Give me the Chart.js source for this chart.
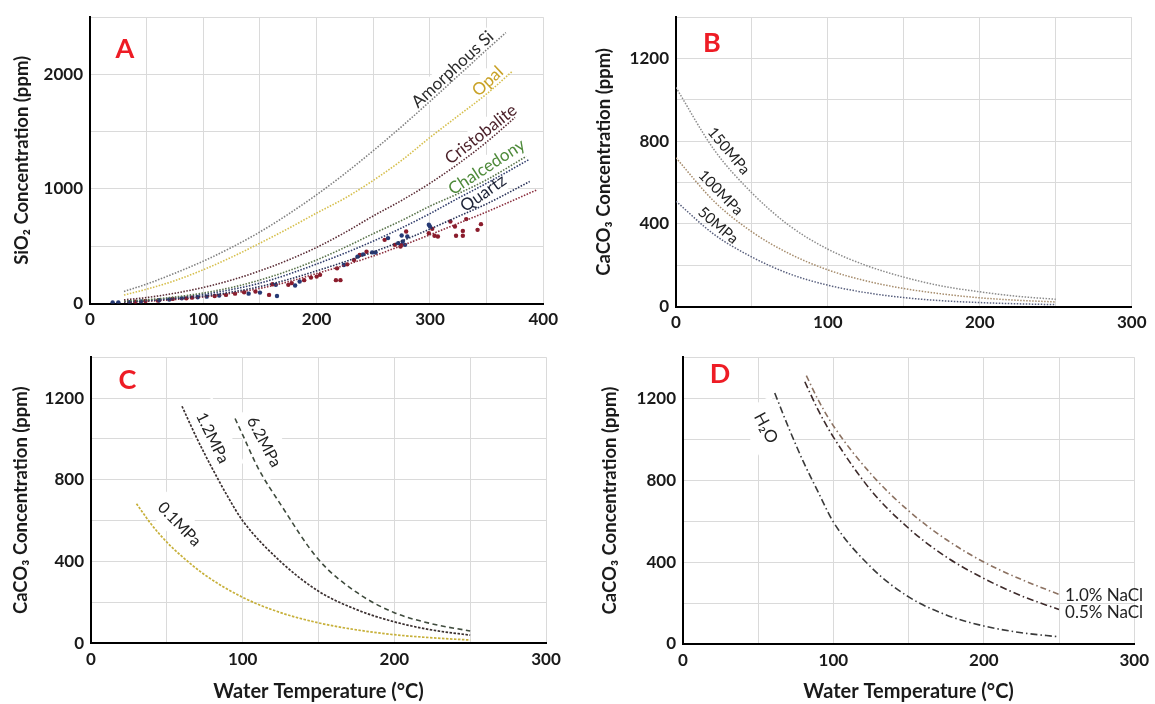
<!DOCTYPE html>
<html>
<head>
<meta charset="utf-8">
<script src="https://cdn.jsdelivr.net/npm/chart.js@4.4.0/dist/chart.umd.min.js"></script>
<style>
  html, body { margin: 0; padding: 0; background: #fff; }
  #wrap { position: relative; width: 1155px; height: 704px; overflow: hidden; background: #fff; }
  canvas { position: absolute; }
</style>
</head>
<body>
<div id="wrap">
  <canvas id="chartA" width="586" height="340" style="left:0px;top:0px"></canvas>
  <canvas id="chartB" width="569" height="340" style="left:586px;top:0px"></canvas>
  <canvas id="chartC" width="591" height="364" style="left:1px;top:340px"></canvas>
  <canvas id="chartD" width="562" height="364" style="left:593px;top:340px"></canvas>
</div>
<script>
// ---- Panel A: SiO2 solubility vs temperature ----
const tAmorphous = [30, 50, 75, 100, 125, 150, 175, 200, 225, 250, 275, 300, 325, 350, 367];
const ppmAmorphous = [105, 170, 265, 370, 490, 625, 780, 950, 1135, 1335, 1545, 1765, 1990, 2215, 2365];
const tOpal = [30, 50, 75, 100, 125, 150, 175, 200, 225, 250, 275, 300, 325, 350, 373];
const ppmOpal = [74, 125, 200, 295, 405, 527, 655, 790, 920, 1075, 1250, 1450, 1640, 1830, 2030];
const tCristobalite = [30, 50, 75, 100, 125, 150, 175, 200, 225, 250, 275, 300, 325, 350, 375];
const ppmCristobalite = [32, 52, 90, 140, 205, 285, 380, 490, 620, 765, 900, 1050, 1220, 1410, 1625];
const tChalcedony = [30, 50, 75, 100, 125, 150, 175, 200, 225, 250, 275, 300, 325, 350, 385];
const ppmChalcedony = [20, 33, 57, 92, 140, 205, 285, 380, 490, 610, 725, 850, 960, 1080, 1285];
const tNavyLine = [30, 50, 75, 100, 125, 150, 175, 200, 225, 250, 275, 300, 325, 350, 387];
const ppmNavyLine = [18, 28, 50, 80, 122, 178, 255, 345, 440, 545, 660, 785, 920, 1050, 1255];
const tQuartz = [30, 50, 75, 100, 125, 150, 175, 200, 225, 250, 275, 300, 325, 350, 388];
const ppmQuartz = [15, 24, 42, 66, 100, 148, 210, 285, 365, 450, 545, 650, 760, 870, 1065];
const tRedLine = [30, 50, 75, 100, 125, 150, 175, 200, 225, 250, 275, 300, 325, 350, 395];
const ppmRedLine = [12, 20, 35, 57, 90, 132, 190, 262, 335, 415, 505, 600, 700, 800, 995];

// measured samples
const tNavyDots = [20, 25, 35, 45, 61, 70, 81, 95, 103, 114, 140, 150, 164, 165, 181, 185, 224, 236, 241, 249, 252, 263, 272, 276, 278, 275, 280, 300, 299];
const ppmNavyDots = [10, 10, 12, 18, 28, 35, 45, 55, 60, 69, 86, 95, 163, 66, 157, 192, 336, 409, 429, 446, 445, 571, 527, 541, 512, 594, 585, 672, 687];
const tRedDots = [40, 49, 60, 73, 85, 90, 110, 120, 128, 136, 146, 158, 161, 175, 178, 189, 195, 200, 203, 217, 221, 218, 227, 233, 238, 244, 260, 269, 274, 275, 279, 299, 302, 304, 307, 318, 322, 323, 329, 329, 332, 342, 345];
const ppmRedDots = [15, 22, 25, 40, 45, 51, 65, 75, 86, 98, 104, 75, 168, 163, 178, 204, 226, 235, 250, 204, 204, 307, 342, 380, 423, 452, 556, 512, 497, 512, 629, 614, 652, 591, 585, 716, 672, 591, 634, 591, 737, 643, 693];

// ---- Panel B: CaCO3 vs temperature at high pressure ----
const tB = [0, 25, 50, 75, 100, 125, 150, 175, 200, 225, 250];
const ppm150MPa = [1060, 760, 550, 390, 278, 200, 143, 100, 72, 50, 36];
const ppm100MPa = [720, 510, 362, 255, 178, 125, 88, 62, 43, 31, 23];
const ppm50MPa = [510, 350, 240, 158, 104, 68, 44, 29, 20, 14, 10];

// ---- Panel C: CaCO3 vs temperature at low pressure ----
const t01MPa = [30, 40, 50, 60, 75, 100, 125, 150, 175, 200, 225, 250];
const ppm01MPa = [683, 580, 495, 425, 335, 225, 150, 100, 66, 42, 27, 16];
const t12MPa = [60, 70, 80, 90, 100, 125, 150, 175, 200, 225, 250];
const ppm12MPa = [1160, 1000, 855, 720, 600, 400, 255, 165, 105, 65, 40];
const t62MPa = [95, 100, 110, 125, 150, 175, 200, 225, 250];
const ppm62MPa = [1100, 1020, 860, 680, 410, 250, 150, 95, 60];

// ---- Panel D: CaCO3 in water and brine ----
const tWater = [61, 70, 80, 90, 100, 125, 150, 175, 200, 225, 250];
const ppmWater = [1225, 1060, 890, 740, 595, 375, 230, 142, 88, 55, 35];
const tNaCl05 = [81, 90, 100, 125, 150, 175, 200, 225, 250];
const ppmNaCl05 = [1280, 1140, 1010, 750, 565, 425, 320, 235, 168];
const tNaCl10 = [82, 90, 100, 125, 150, 175, 200, 225, 250];
const ppmNaCl10 = [1310, 1190, 1065, 830, 650, 510, 400, 315, 242];

const FONT = 'Lato, "Liberation Sans", sans-serif';
const INK = '#1a1a1a';

const pts = (t, c) => t.map((x, i) => ({ x, y: c[i] }));

function curve(t, c, color, dash, width) {
  return {
    type: 'line',
    data: pts(t, c),
    borderColor: color,
    borderWidth: width || 1.6,
    borderDash: dash,
    pointRadius: 0,
    cubicInterpolationMode: 'monotone',
    fill: false
  };
}

function dots(t, c, color) {
  return {
    type: 'scatter',
    data: pts(t, c),
    showLine: false,
    pointRadius: 2.2,
    pointBorderWidth: 0,
    backgroundColor: color,
    borderColor: color
  };
}

// draws rotated curve names, their white boxes and the red panel letter
const panelDecor = {
  id: 'panelDecor',
  beforeDatasetsDraw(chart, args, opts) {
    const ctx = chart.ctx;
    (opts.notes || []).forEach(n => {
      if (!n.box) return;
      const x = chart.scales.x.getPixelForValue(n.x);
      const y = chart.scales.y.getPixelForValue(n.y);
      ctx.save();
      ctx.font = n.font;
      const w = ctx.measureText(n.text).width;
      const h = n.size * 1.1;
      ctx.translate(x, y);
      ctx.rotate(n.angle * Math.PI / 180);
      ctx.fillStyle = '#fff';
      ctx.fillRect(-w / 2 - n.box, -h / 2 - n.box, w + 2 * n.box, h + 2 * n.box);
      ctx.restore();
    });
  },
  afterDatasetsDraw(chart, args, opts) {
    const ctx = chart.ctx;
    (opts.notes || []).forEach(n => {
      const x = chart.scales.x.getPixelForValue(n.x);
      const y = chart.scales.y.getPixelForValue(n.y);
      ctx.save();
      ctx.font = n.font;
      ctx.fillStyle = n.color;
      ctx.textAlign = n.align || 'center';
      ctx.textBaseline = 'middle';
      ctx.translate(x, y);
      ctx.rotate(n.angle * Math.PI / 180);
      ctx.fillText(n.text, 0, 0);
      ctx.restore();
    });
  },
  afterDraw(chart, args, opts) {
    if (!opts.letter) return;
    const ctx = chart.ctx;
    const a = chart.chartArea;
    ctx.save();
    ctx.font = 'bold 27px ' + FONT;
    ctx.fillStyle = '#ee1c25';
    ctx.textAlign = 'center';
    ctx.textBaseline = 'middle';
    ctx.fillText(opts.letter, a.left + opts.dx, a.top + opts.dy);
    ctx.restore();
  }
};

function note(text, x, y, angle, color, size, box, align) {
  return { text, x, y, angle, color, size, font: size + 'px ' + FONT, box: box || 0, align };
}

function scales(o) {
  const tickFont = { family: FONT, size: 17, weight: 'bold' };
  return {
    x: {
      type: 'linear',
      min: 0,
      max: o.xMax,
      afterFit: s => { s.height = o.xH; },
      grid: { color: '#dadada', lineWidth: 1, drawTicks: false },
      border: { display: true, color: '#000', width: 2 },
      ticks: {
        stepSize: 50, autoSkip: false, maxRotation: 0, padding: 6,
        color: INK, font: tickFont,
        callback: v => (v % 100 === 0 ? v : '')
      },
      title: {
        display: !!o.xTitle,
        text: 'Water Temperature (°C)',
        color: INK, font: { family: FONT, size: 20, weight: 'bold' },
        padding: { top: 0, bottom: 0 }
      }
    },
    y: {
      type: 'linear',
      min: 0,
      max: o.yMax,
      afterFit: s => { s.width = 90; },
      grid: { color: '#dadada', lineWidth: 1, drawTicks: false },
      border: { display: true, color: '#000', width: 2 },
      ticks: {
        stepSize: o.yStep, autoSkip: false, padding: 7,
        color: INK, font: tickFont,
        callback: v => (v % o.yLabelEvery === 0 ? v : '')
      },
      title: {
        display: true,
        text: o.yTitle,
        color: INK, font: { family: FONT, size: 18.5, weight: 'bold' },
        padding: { top: o.yTitlePad, bottom: 0 }
      }
    }
  };
}

function makeChart(id, datasets, o, decor) {
  return new Chart(document.getElementById(id), {
    type: 'line',
    data: { datasets },
    options: {
      responsive: false,
      animation: false,
      events: [],
      layout: { padding: { left: 0, top: o.padTop, right: o.padRight, bottom: 0 } },
      scales: scales(o),
      plugins: {
        legend: { display: false },
        tooltip: { enabled: false },
        panelDecor: decor
      }
    },
    plugins: [panelDecor]
  });
}

const dotted = [1.5, 1.5];

makeChart('chartA', [
  curve(tAmorphous, ppmAmorphous, '#808080', dotted),
  curve(tOpal, ppmOpal, '#d6bf4c', dotted),
  curve(tCristobalite, ppmCristobalite, '#5a2b34', dotted),
  curve(tChalcedony, ppmChalcedony, '#58734a', dotted),
  curve(tNavyLine, ppmNavyLine, '#2f3b6b', dotted),
  curve(tQuartz, ppmQuartz, '#283158', dotted),
  curve(tRedLine, ppmRedLine, '#8a2d3d', dotted),
  dots(tNavyDots, ppmNavyDots, '#263a75'),
  dots(tRedDots, ppmRedDots, '#8b1c2c')
], {
  xMax: 400, xH: 36.5, yMax: 2500, yStep: 500, yLabelEvery: 1000,
  yTitle: 'SiO₂ Concentration (ppm)', yTitlePad: 11, padTop: 17, padRight: 42.7
}, {
  letter: 'A', dx: 35, dy: 32,
  notes: [
    note('Amorphous Si', 320, 2044, -42.6, '#2b2b2b', 17, 1),
    note('Opal', 351, 1941, -43, '#c9a227', 17, 1),
    note('Cristobalite', 345, 1478, -38, '#4a1f28', 17, 1),
    note('Chalcedony', 350, 1192, -33, '#4e8a3a', 17, 1),
    note('Quartz', 347, 962, -35, '#1c2236', 17, 1)
  ]
});

makeChart('chartB', [
  curve(tB, ppm150MPa, '#8c8c8c', dotted, 1.5),
  curve(tB, ppm100MPa, '#a68c6c', dotted, 1.5),
  curve(tB, ppm50MPa, '#59607e', dotted, 1.5)
], {
  xMax: 300, xH: 33.3, yMax: 1400, yStep: 200, yLabelEvery: 400,
  yTitle: 'CaCO₃ Concentration (ppm)', yTitlePad: 7, padTop: 12.7, padRight: 23.3
}, {
  letter: 'B', dx: 36, dy: 26,
  notes: [
    note('150MPa', 34.7, 753, 50, '#222', 15),
    note('100MPa', 29.4, 551, 45.6, '#222', 15),
    note('50MPa', 27.7, 393, 41, '#222', 15)
  ]
});

makeChart('chartC', [
  curve(t01MPa, ppm01MPa, '#c7b03a', [2.5, 1.5], 1.7),
  curve(t12MPa, ppm12MPa, '#3b3030', [2.5, 1.5], 1.7),
  curve(t62MPa, ppm62MPa, '#3f4b3d', [5, 3.5], 1.6)
], {
  xMax: 300, xH: 60.7, yMax: 1400, yStep: 200, yLabelEvery: 400, xTitle: true,
  yTitle: 'CaCO₃ Concentration (ppm)', yTitlePad: 8.6, padTop: 15, padRight: 46
}, {
  letter: 'C', dx: 36.5, dy: 23,
  notes: [
    note('1.2MPa', 80, 1005, 64, '#222', 16, 9),
    note('6.2MPa', 114, 985, 62, '#222', 16, 9),
    note('0.1MPa', 58.2, 582, 46, '#222', 16, 5)
  ]
});

makeChart('chartD', [
  curve(tWater, ppmWater, '#3a3a3a', [7, 3, 1.5, 3], 1.6),
  curve(tNaCl05, ppmNaCl05, '#3d2a2a', [7, 3, 1.5, 3], 1.6),
  curve(tNaCl10, ppmNaCl10, '#8c7262', [6, 3, 1.5, 3], 1.6)
], {
  xMax: 300, xH: 60, yMax: 1400, yStep: 200, yLabelEvery: 400, xTitle: true,
  yTitle: 'CaCO₃ Concentration (ppm)', yTitlePad: 5.7, padTop: 13.3, padRight: 17
}, {
  letter: 'D', dx: 37, dy: 17.5,
  notes: [
    note('H₂O', 55.2, 1055, 62, '#222', 17, 10),
    note('1.0% NaCl', 254, 237, 0, '#222', 17, 0, 'left'),
    note('0.5% NaCl', 254, 156, 0, '#222', 17, 0, 'left')
  ]
});
</script>
</body>
</html>
